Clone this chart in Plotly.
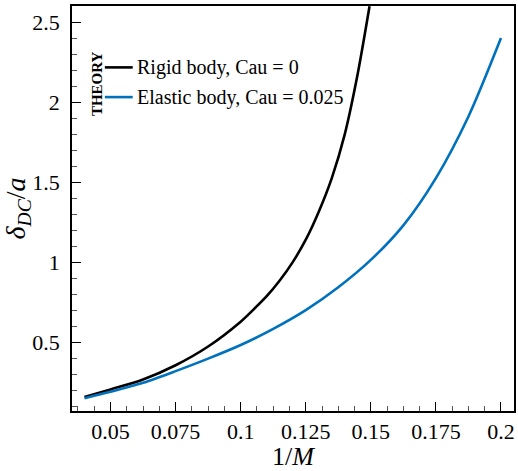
import plotly.graph_objects as go

# Data
inv_m_rigid = [0.04, 0.05, 0.0625, 0.075, 0.0875, 0.1, 0.105, 0.11, 0.115, 0.12,
               0.125, 0.13, 0.135, 0.14, 0.145, 0.1495]
delta_rigid = [0.158, 0.205, 0.267, 0.356, 0.473, 0.628, 0.705, 0.787, 0.885, 1.0,
               1.14, 1.315, 1.525, 1.80, 2.18, 2.598]

inv_m_elastic = [0.04, 0.05, 0.0625, 0.075, 0.0875, 0.1, 0.1125, 0.125,
                 0.1375, 0.15, 0.1625, 0.175, 0.1875, 0.2]
delta_elastic = [0.15, 0.19, 0.246, 0.319, 0.397, 0.482, 0.583, 0.700,
                 0.843, 1.014, 1.23, 1.525, 1.91, 2.40]

x_ticks = [0.05, 0.075, 0.1, 0.125, 0.15, 0.175, 0.2]
x_ticktext = ["0.05", "0.075", "0.1", "0.125", "0.15", "0.175", "0.2"]
y_ticks = [0.5, 1, 1.5, 2, 2.5]
y_ticktext = ["0.5", "1", "1.5", "2", "2.5"]

legend_names = ["Rigid body, Cau = 0", "Elastic body, Cau = 0.025"]
colors = ["#000000", "#0072BD"]

FONT = "Liberation Serif, Times New Roman, Times, serif"

fig = go.Figure()
fig.add_trace(go.Scatter(x=inv_m_rigid, y=delta_rigid, mode="lines",
                         line=dict(color=colors[0], width=2.6, shape="spline", smoothing=0.8),
                         name=legend_names[0], showlegend=False))
fig.add_trace(go.Scatter(x=inv_m_elastic, y=delta_elastic, mode="lines",
                         line=dict(color=colors[1], width=2.6, shape="spline", smoothing=0.8),
                         name=legend_names[1], showlegend=False))

W, H = 518, 471
ml, mr, mt, mb = 72, 2, 6, 56
pw, ph = W - ml - mr, H - mt - mb

def px(xp):
    return (xp - ml) / pw

def py(yp):
    return 1 - (yp - mt) / ph

# manual legend
for i, (name, c) in enumerate(zip(legend_names, colors)):
    yy = py(68 + 30 * i)
    fig.add_shape(type="line", xref="paper", yref="paper",
                  x0=px(105), x1=px(133), y0=yy, y1=yy,
                  line=dict(color=c, width=2.6))
    fig.add_annotation(xref="paper", yref="paper", x=px(135), y=yy,
                       text=name, showarrow=False, xanchor="left", yanchor="middle",
                       font=dict(family=FONT, size=20, color="black"))
fig.add_annotation(xref="paper", yref="paper", x=px(97), y=py(84),
                   text="<b>THEORY</b>", showarrow=False, textangle=-90,
                   xanchor="center", yanchor="middle",
                   font=dict(family=FONT, size=15, color="black"))

axis_common = dict(showgrid=False, zeroline=False, showline=True, mirror=True,
                   linecolor="black", linewidth=1.5, ticks="inside", ticklen=9,
                   tickwidth=1.2, tickcolor="black",
                   tickfont=dict(family=FONT, size=22, color="black"))

fig.update_xaxes(range=[0.0352, 0.205], tickvals=x_ticks, ticktext=x_ticktext,
                 minor=dict(dtick=0.00625, tick0=0.05, ticks="inside", ticklen=5,
                            tickcolor="#555", tickwidth=1),
                 title=dict(text="1/<i>M</i>", font=dict(family=FONT, size=26, color="black"),
                            standoff=7),
                 ticklabelstandoff=0,
                 **axis_common)
fig.update_yaxes(range=[0.07, 2.6], tickvals=y_ticks, ticktext=y_ticktext,
                 minor=dict(dtick=0.1, tick0=0, ticks="inside", ticklen=5,
                            tickcolor="#555", tickwidth=1),
                 title=dict(text="<i>δ</i><sub><i>DC</i></sub>/<i>a</i>",
                            font=dict(family=FONT, size=28, color="black"),
                            standoff=6),
                 ticklabelstandoff=6,
                 **axis_common)

fig.update_layout(width=W, height=H, margin=dict(l=ml, r=mr, t=mt, b=mb),
                  plot_bgcolor="white", paper_bgcolor="white",
                  font=dict(family=FONT, color="black"))

fig.write_html("out.html", config={"displayModeBar": False},
               post_script="document.body.style.margin='0';document.body.style.overflow='hidden';")
